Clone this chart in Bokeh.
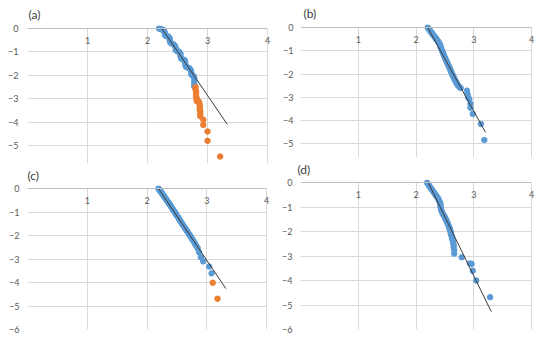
from bokeh.plotting import figure
from bokeh.models import FixedTicker, Range1d
from bokeh.layouts import row, column
from bokeh.embed import file_html
from bokeh.resources import INLINE

BLUE = "#5B9BD5"
ORANGE = "#ED7D31"
LINE = "#3A3A3A"
GRID = "#D9D9D9"
FONT = "Lato"

x_ticks = [1, 2, 3, 4]
x_grid_ticks = [0, 1, 2, 3, 4]
y_ticks = [0, -1, -2, -3, -4, -5, -6]
y_grid_ticks = [-1, -2, -3, -4, -5, -6]

# ---------- panel (a) ----------
a_blue_x = [2.19, 2.21, 2.23, 2.25, 2.27, 2.28, 2.29, 2.29, 2.31, 2.33, 2.35,
            2.37, 2.37, 2.38, 2.40, 2.42, 2.44, 2.46, 2.47, 2.47, 2.49, 2.51,
            2.53, 2.55, 2.55, 2.56, 2.58, 2.60, 2.62, 2.63, 2.63, 2.64, 2.66,
            2.68, 2.70, 2.72, 2.73, 2.73, 2.75, 2.77, 2.78, 2.78, 2.78, 2.78]
a_blue_y = [0.0, -0.01, -0.03, -0.05, -0.07, -0.12, -0.20, -0.28, -0.32, -0.33, -0.35,
            -0.42, -0.50, -0.60, -0.63, -0.66, -0.69, -0.75, -0.83, -0.92, -0.96, -0.98,
            -1.00, -1.08, -1.18, -1.28, -1.31, -1.33, -1.36, -1.44, -1.54, -1.63, -1.66,
            -1.68, -1.70, -1.78, -1.88, -1.97, -2.01, -2.04, -2.15, -2.27, -2.38, -2.48]
a_orange_x = [2.80, 2.80, 2.81, 2.81, 2.81, 2.82, 2.82, 2.82, 2.83, 2.84, 2.85, 2.86,
              2.87, 2.87, 2.87, 2.88, 2.88, 2.88, 2.93, 2.93, 3.00, 3.00, 3.21]
a_orange_y = [-2.50, -2.60, -2.70, -2.80, -2.90, -3.00, -3.05, -3.10, -3.10, -3.10, -3.12, -3.15,
              -3.25, -3.35, -3.45, -3.55, -3.65, -3.75, -3.90, -4.12, -4.40, -4.80, -5.47]
a_line_x = [2.24, 3.33]
a_line_y = [0.0, -4.10]

# ---------- panel (b) ----------
b_blue_x = [2.20, 2.21, 2.22, 2.23, 2.24, 2.25, 2.26, 2.27, 2.28, 2.29, 2.30, 2.31,
            2.32, 2.33, 2.34, 2.35, 2.36, 2.37, 2.38, 2.39, 2.40, 2.41, 2.42, 2.42,
            2.43, 2.44, 2.45, 2.46, 2.47, 2.48, 2.49, 2.50, 2.51, 2.52, 2.53, 2.54,
            2.55, 2.56, 2.57, 2.58, 2.59, 2.60, 2.61, 2.62, 2.63, 2.64, 2.65, 2.66,
            2.67, 2.68, 2.69, 2.70, 2.71, 2.72, 2.73, 2.75, 2.77,
            2.88, 2.89, 2.90, 2.92, 2.94, 2.94, 2.98, 3.12, 3.18]
b_blue_y = [0.0, -0.03, -0.06, -0.10, -0.13, -0.17, -0.20, -0.24, -0.27, -0.30, -0.33, -0.36,
            -0.40, -0.42, -0.46, -0.50, -0.52, -0.56, -0.60, -0.63, -0.68, -0.72, -0.76, -0.82,
            -0.88, -0.94, -1.00, -1.05, -1.12, -1.18, -1.25, -1.30, -1.36, -1.42, -1.47, -1.52,
            -1.58, -1.63, -1.68, -1.74, -1.80, -1.86, -1.92, -1.98, -2.04, -2.08, -2.14, -2.20,
            -2.24, -2.29, -2.34, -2.38, -2.42, -2.47, -2.50, -2.55, -2.60,
            -2.71, -2.86, -3.00, -3.07, -3.27, -3.44, -3.71, -4.14, -4.83]
b_line_x = [2.20, 3.20]
b_line_y = [0.0, -4.50]

# ---------- panel (c) ----------
c_blue_x = [2.19, 2.20, 2.21, 2.22, 2.23, 2.24, 2.25, 2.26, 2.27, 2.28, 2.29, 2.30,
            2.31, 2.32, 2.33, 2.34, 2.35, 2.36, 2.37, 2.38, 2.39, 2.40, 2.41, 2.42,
            2.43, 2.44, 2.46, 2.47, 2.48, 2.49, 2.50, 2.52, 2.53, 2.54, 2.55, 2.56,
            2.58, 2.59, 2.60, 2.62, 2.63, 2.64, 2.66, 2.67, 2.68, 2.70, 2.71, 2.72,
            2.74, 2.75, 2.77, 2.78, 2.80, 2.81, 2.83, 2.85, 2.87, 2.90, 2.94, 3.04, 3.08]
c_blue_y = [0.0, -0.03, -0.07, -0.10, -0.13, -0.17, -0.20, -0.24, -0.28, -0.31, -0.35, -0.39,
            -0.42, -0.45, -0.50, -0.53, -0.57, -0.60, -0.64, -0.68, -0.72, -0.75, -0.80, -0.84,
            -0.88, -0.92, -0.98, -1.03, -1.07, -1.12, -1.15, -1.22, -1.27, -1.31, -1.35, -1.40,
            -1.46, -1.51, -1.55, -1.62, -1.66, -1.70, -1.77, -1.81, -1.85, -1.93, -1.97, -2.01,
            -2.08, -2.13, -2.20, -2.25, -2.33, -2.38, -2.46, -2.55, -2.71, -2.92, -3.10, -3.32, -3.61]
c_orange_x = [3.10, 3.18]
c_orange_y = [-4.01, -4.69]
c_line_x = [2.19, 3.32]
c_line_y = [0.0, -4.26]

# ---------- panel (d) ----------
d_blue_x = [2.19, 2.20, 2.22, 2.23, 2.25, 2.26, 2.28, 2.29, 2.31, 2.32, 2.34, 2.35,
            2.37, 2.38, 2.39, 2.40, 2.41, 2.42, 2.42, 2.42, 2.43, 2.43, 2.44, 2.45,
            2.47, 2.48, 2.50, 2.51, 2.52, 2.53, 2.54, 2.55, 2.56, 2.57, 2.58, 2.58,
            2.59, 2.60, 2.60, 2.61, 2.62, 2.62, 2.63, 2.64, 2.64, 2.65, 2.65, 2.66, 2.66,
            2.79, 2.93, 2.96, 2.98, 3.04, 3.28]
d_blue_y = [0.0, -0.04, -0.10, -0.15, -0.20, -0.25, -0.30, -0.35, -0.40, -0.45, -0.50, -0.55,
            -0.60, -0.65, -0.70, -0.75, -0.80, -0.85, -0.90, -0.96, -1.02, -1.08, -1.15, -1.22,
            -1.30, -1.35, -1.42, -1.48, -1.53, -1.58, -1.63, -1.70, -1.75, -1.80, -1.85, -1.90,
            -1.96, -2.02, -2.08, -2.15, -2.20, -2.27, -2.33, -2.40, -2.46, -2.55, -2.65, -2.75, -2.90,
            -3.05, -3.30, -3.32, -3.60, -4.00, -4.68]
d_line_x = [2.21, 3.30]
d_line_y = [0.0, -5.27]

Y_TOP = 0.13  # small headroom so the dots at y = 0 are not cut


def make_panel(title, width, height, x_end, y_start, borders, t_offset, t_standoff, y_standoff,
               blue_x, blue_y, orange_x, orange_y, line_x, line_y):
    left, right, top, bottom = borders
    p = figure(width=width, height=height, output_backend="svg", toolbar_location=None,
               x_range=Range1d(0, x_end), y_range=Range1d(y_start, Y_TOP),
               min_border_left=left, min_border_right=right,
               min_border_top=top, min_border_bottom=bottom,
               background_fill_color="white", border_fill_color="white")
    p.outline_line_color = None

    # horizontal axis crossing at y = 0 (top of the plot), labels under the line
    xa = p.xaxis[0]
    xa.fixed_location = 0
    xa.bounds = (0, 4)
    xa.ticker = FixedTicker(ticks=x_ticks)
    xa.axis_line_color = "#BFBFBF"
    xa.major_tick_line_color = None
    xa.minor_tick_line_color = None
    xa.major_tick_out = 0
    xa.major_tick_in = 0
    xa.minor_tick_out = 0
    xa.major_label_standoff = 8
    xa.major_label_text_font = FONT
    xa.major_label_text_font_size = "9px"
    xa.major_label_text_color = "#595959"

    ya = p.yaxis[0]
    ya.ticker = FixedTicker(ticks=y_ticks)
    ya.axis_line_color = None
    ya.major_tick_line_color = None
    ya.minor_tick_line_color = None
    ya.major_tick_out = 0
    ya.major_tick_in = 0
    ya.minor_tick_out = 0
    ya.major_label_standoff = y_standoff
    ya.major_label_text_font = FONT
    ya.major_label_text_font_size = "9px"
    ya.major_label_text_color = "#595959"

    p.xgrid.ticker = FixedTicker(ticks=x_grid_ticks)
    p.ygrid.ticker = FixedTicker(ticks=y_grid_ticks)
    p.xgrid.grid_line_color = GRID
    p.ygrid.grid_line_color = GRID
    try:
        p.ygrid[0].cross_bounds = (0, 4)
        p.xgrid[0].cross_bounds = (y_start, 0)
    except AttributeError:
        pass

    p.title.text = title
    p.title.text_font = FONT
    p.title.text_font_size = "12px"
    p.title.text_font_style = "normal"
    p.title.text_color = "#404040"
    p.title.align = "left"
    p.title.offset = t_offset
    p.title.standoff = t_standoff

    p.scatter(blue_x, blue_y, size=5.5, fill_color=BLUE, line_color=BLUE)
    if orange_x:
        p.scatter(orange_x, orange_y, size=5.5, fill_color=ORANGE, line_color=ORANGE)
    p.line(line_x, line_y, line_color=LINE, line_width=1)
    return p


pa = make_panel("(a)", 275, 163, 4.083, -5.77, (27, 3, 25, 0), 1, 7, 9,
                a_blue_x, a_blue_y, a_orange_x, a_orange_y, a_line_x, a_line_y)
pb = make_panel("(b)", 275, 157, 4.1, -5.58, (17, 13, 24, 0), 3, 7, 7,
                b_blue_x, b_blue_y, [], [], b_line_x, b_line_y)
pc = make_panel("(c)", 275, 182, 4.1, -6, (27, 3, 22, 16), 0, 5, 8,
                c_blue_x, c_blue_y, c_orange_x, c_orange_y, c_line_x, c_line_y)
pd = make_panel("(d)", 275, 188, 4.1, -6, (25, 6, 22, 16), -3, 5, 8,
                d_blue_x, d_blue_y, [], [], d_line_x, d_line_y)

layout = row(column(pa, pc), column(pb, pd), margin=(0, 0, 0, 0))

open("out.html", "w").write(file_html(layout, INLINE))
